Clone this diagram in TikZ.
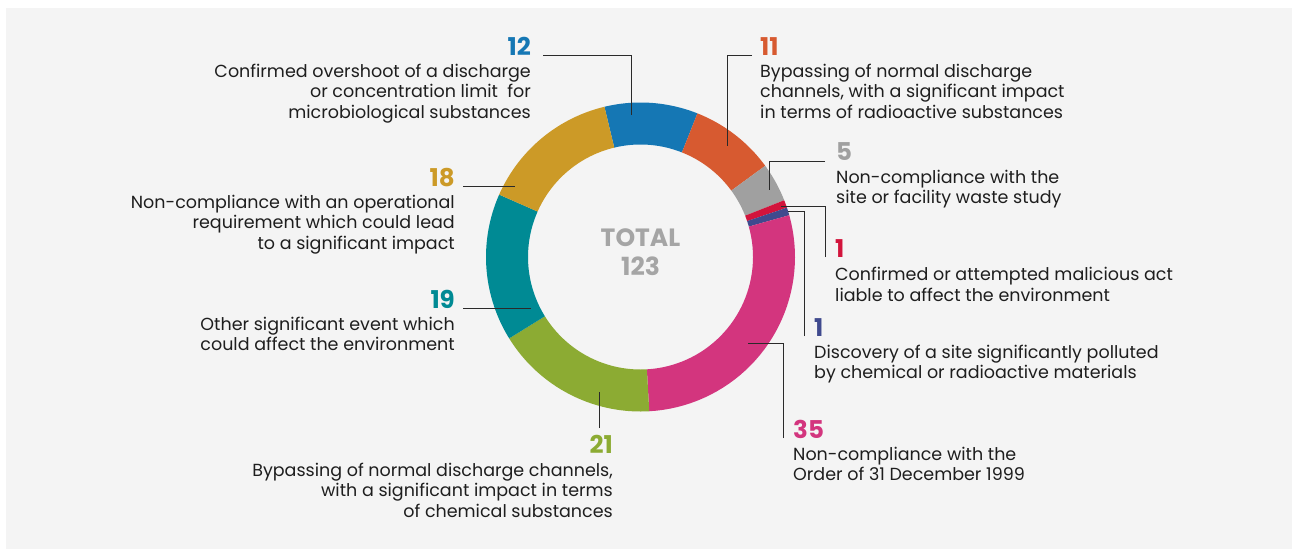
\documentclass[tikz,border=0pt]{standalone}
\usepackage{fontspec}
\setmainfont{Poppins}
\definecolor{bgpanel}{HTML}{F4F4F4}
\definecolor{cblue}{HTML}{1577B4}
\definecolor{corange}{HTML}{D75A30}
\definecolor{cgray}{HTML}{A0A0A0}
\definecolor{cred}{HTML}{D2143C}
\definecolor{cpurple}{HTML}{404A8E}
\definecolor{cpink}{HTML}{D3357E}
\definecolor{cgreen}{HTML}{8CAB33}
\definecolor{cteal}{HTML}{008A94}
\definecolor{cgold}{HTML}{CC9A27}
\definecolor{ctext}{HTML}{1E1E1E}
\definecolor{clead}{HTML}{2A2A2A}
\definecolor{ctotal}{HTML}{A5A5A5}
\newcommand\ringseg[3]{\fill[#3] plot[domain=#1:#2,samples=40] ({\x-90}:154.5) -- plot[domain=#2:#1,samples=40] ({\x-90}:112.5) -- cycle;}
\begin{document}
\begin{tikzpicture}[x=1pt,y=-1pt,
  num/.style={font=\fontsize{24.5}{28}\selectfont\bfseries, inner sep=0pt},
  desc/.style={font=\fontsize{17.5}{20.8}\selectfont, text=ctext, inner sep=0pt},
  lead/.style={draw=clead, line width=0.9pt},
  total/.style={font=\fontsize{25}{28}\selectfont\bfseries, text=ctotal, inner sep=0pt}]
\useasboundingbox (0,0) rectangle (1292,549);
\fill[white] (0,0) rectangle (1292,549);
\fill[bgpanel] (6,8) rectangle (1292,549);
% donut
\begin{scope}[shift={(640.5,257)}]
\ringseg{-13.5}{21.62}{cblue}
\ringseg{21.62}{53.82}{corange}
\ringseg{53.82}{68.45}{cgray}
\ringseg{68.45}{71.38}{cred}
\ringseg{71.38}{74.31}{cpurple}
\ringseg{74.31}{176.75}{cpink}
\ringseg{176.75}{238.21}{cgreen}
\ringseg{238.21}{293.82}{cteal}
\ringseg{293.82}{346.5}{cgold}
\end{scope}
\node[total, anchor=base] (tot) at (640.5,246.7) {TOTAL};
\node[total, anchor=base] (totn) at (640.5,275) {123};
% labels (base anchor of a multi-line node = baseline of its last line)
\node[num, text=cblue, anchor=base east] (n12) at (531,55) {12};
\node[desc, align=right, anchor=base east] (d12) at (531,118.6) {Confirmed overshoot of a discharge\\or concentration limit\ \ for\\microbiological substances};
\node[num, text=corange, anchor=base west] (n11) at (760,55) {11};
\node[desc, align=left, anchor=base west] (d11) at (760,118.6) {Bypassing of normal discharge\\channels, with a significant impact\\in terms of radioactive substances};
\node[num, text=cgray, anchor=base west] (n5) at (836,160.7) {5};
\node[desc, align=left, anchor=base west] (d5) at (836,203.8) {Non-compliance with the\\site or facility waste study};
\node[num, text=cred, anchor=base west] (n1r) at (835,257) {1};
\node[desc, align=left, anchor=base west] (d1r) at (835,301.3) {Confirmed or attempted malicious act\\liable to affect the environment};
\node[num, text=cpurple, anchor=base west] (n1p) at (814,336) {1};
\node[desc, align=left, anchor=base west] (d1p) at (814,378.8) {Discovery of a site significantly polluted\\by chemical or radioactive materials};
\node[num, text=cpink, anchor=base west] (n35) at (793,438) {35};
\node[desc, align=left, anchor=base west] (d35) at (793,480.8) {Non-compliance with the\\Order of 31 December 1999};
\node[num, text=cgreen, anchor=base east] (n21) at (613,453) {21};
\node[desc, align=right, anchor=base east] (d21) at (613,517.6) {Bypassing of normal discharge channels,\\with a significant impact in terms\\of chemical substances};
\node[num, text=cteal, anchor=base east] (n19) at (455,308) {19};
\node[desc, align=right, anchor=base east] (d19) at (455,350.8) {Other significant event which\\could affect the environment};
\node[num, text=cgold, anchor=base east] (n18) at (455,186) {18};
\node[desc, align=right, anchor=base east] (d18) at (455,249.6) {Non-compliance with an operational\\requirement which could lead\\to a significant impact};
% connectors
\coordinate (a12) at (543,55);   \coordinate (p12) at (631,115);
\coordinate (a11) at (752,55);   \coordinate (p11) at (727.7,146);
\coordinate (a5) at (825,161.7); \coordinate (p5) at (769.3,190);
\coordinate (a1r) at (825.7,257); \coordinate (p1r) at (781,206);
\coordinate (a1p) at (804.3,336); \coordinate (p1p) at (788,211);
\coordinate (a35) at (783.3,438); \coordinate (p35) at (748,343);
\coordinate (a21) at (599.3,428); \coordinate (p21) at (599.3,391.7);
\coordinate (a19) at (463,308.7); \coordinate (p19) at (530.7,308.7);
\coordinate (a18) at (463,186.7); \coordinate (p18) at (515,186.7);
\draw[lead] (a12) -| (p12);
\draw[lead] (a11) -| (p11);
\draw[lead] (a5) -| (p5);
\draw[lead] (a1r) |- (p1r);
\draw[lead] (a1p) |- (p1p);
\draw[lead] (a35) |- (p35);
\draw[lead] (a21) -- (p21);
\draw[lead] (a19) -- (p19);
\draw[lead] (a18) -- (p18);
\end{tikzpicture}
\end{document}
